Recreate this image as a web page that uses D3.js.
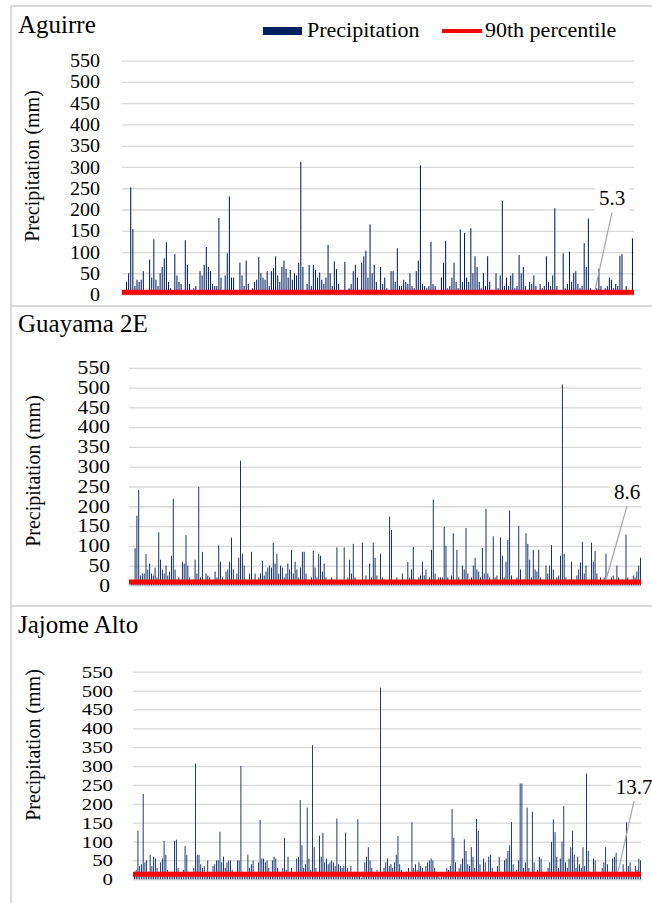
<!DOCTYPE html>
<html>
<head>
<meta charset="utf-8">
<script src="https://cdn.jsdelivr.net/npm/d3@7"></script>
<style>
  body { margin: 0; background: #fff; }
  svg { display: block; }
</style>
</head>
<body>
<script>
// daily precipitation (mm), read left to right off each panel
var aguirreMm = [
    30,50,252,154,20,35,30,35,55,10, 5,82,40,130,35,20,50,65,85,123,
    30,15,10,95,45,30,25,5,128,70, 25,10,15,20,10,55,45,70,112,65,
    55,25,20,20,180,40,10,45,97,231, 40,40,10,5,75,45,20,80,25,10,
    15,30,35,88,50,40,35,55,20,55, 62,90,45,30,65,80,60,40,58,35,
    50,45,75,312,65,10,25,70,20,70, 58,40,52,35,25,40,117,50,20,
    78,60,25,5,10,77,10,15,25,55, 70,40,10,75,90,103,40,165,50,70,
    30,10,65,25,40,15,10,55,55,30, 109,20,20,35,30,25,50,20,15,55,
    80,304,25,20,15,20,124,25,20,10, 5,40,75,126,15,20,40,75,30,15,
    153,30,145,40,30,156,50,90,65,30, 15,50,20,90,30,10,5,50,15,45,
    220,20,40,20,45,50,15,20,93,50, 65,20,10,30,25,45,20,10,25,15,
    20,90,30,20,45,203,20,10,5,97, 15,25,101,30,50,55,25,15,20,121,
    65,179,15,5,10,15,61,20,10,15, 20,40,35,15,25,20,91,95,10,20,
    5,10,132
];
var guayamaMm = [
    5,10,94,176,241,25,30,30,79,40, 55,30,25,45,20,134,65,40,30,50,
    25,35,75,219,40,15,20,10,60,55, 127,50,20,10,15,65,30,249,20,85,
    10,30,25,20,10,5,35,20,101,60, 20,10,35,40,60,121,40,15,30,70,
    315,80,50,15,5,30,85,15,30,10, 20,30,62,25,35,45,50,45,107,55,
    80,30,50,45,20,30,55,40,90,30, 60,40,20,45,85,85,30,15,10,20,
    88,45,20,80,75,35,55,20,10,15, 20,15,10,
    96,10,10,5,96,10,20,65,30,105, 20,10,5,10,108,15,25,10,55,20,
    108,70,25,10,80,20,15,10,5,174, 140,10,5,20,10,10,30,15,10,59,
    20,40,97,15,10,20,25,60,25,40, 15,20,90,217,30,10,20,20,20,148,
    100,20,10,25,132,15,90,20,10,50, 40,145,30,15,20,50,70,40,35,20,
    95,30,194,30,20,10,124,20,25,10, 121,75,20,60,115,189,25,10,15,20,
    150,40,10,15,132,105,65,20,90,40, 35,90,20,15,10,50,30,50,102,40,
    15,20,25,75,508,80,20,10,15,60, 15,10,25,40,58,110,30,50,10,15,
    108,60,87,30,10,20,10,20,80,10, 15,20,25,15,50,20,10,15,10,128,
    20,10,15,25,20,35,50,70
];
var jajomeMm = [
    20,25,129,35,40,226,45,50,20,65, 35,60,55,30,15,45,55,102,65,25,
    15,20,10,102,105,30,15,10,25,88, 65,20,15,10,30,307,65,65,40,30,
    35,10,50,20,15,35,40,50,50,126, 45,60,30,45,50,50,25,15,10,50,
    50,300,20,10,15,65,30,40,50,20, 15,45,157,55,55,45,50,30,20,50,
    60,55,30,20,15,30,110,25,60,15, 30,10,15,55,60,210,90,30,40,190,
    55,25,355,85,30,15,116,60,123,45, 55,
    40,45,50,45,35,161,40,35,30,35, 124,30,20,35,15,20,15,159,10,5,
    20,45,60,85,50,30,20,10,25,15, 508,10,30,45,55,35,40,30,45,65,
    115,40,25,15,10,20,30,15,151,30, 40,25,45,35,30,20,35,45,50,55,
    50,30,20,10,5,15,10,15,30,25, 35,186,110,45,20,30,40,55,106,75,
    40,35,85,60,30,160,128,40,20,55, 45,20,60,65,30,20,15,35,60,20,
    15,50,55,75,90,152,40,20,25,50, 254,254,30,45,190,30,20,179,45,20,
    25,60,55,15,10,20,30,45,99,159, 125,60,30,55,100,194,45,30,55,85,
    129,65,30,60,40,30,85,35,280,75, 20,15,55,50,20,10,15,30,45,85,
    40,20,15,55,60,70,20,10,15,40, 20,151,35,45,20,10,35,25,55,50
];
var stations = ['Aguirre', 'Guayama 2E', 'Jajome Alto'];
var percentile90 = [5.3, 8.6, 13.7];
var yTicks = [0, 50, 100, 150, 200, 250, 300, 350, 400, 450, 500, 550];
var legendLabels = ['Precipitation', '90th percentile'];

;(() => {
    var width = 652, height = 903;

    var barColor = '#002060',
        lineColor = '#ff0000',
        gridColor = '#d9d9d9',
        frameColor = '#d0d0d0',
        serif = '"Liberation Serif", "Times New Roman", serif';

    var series = [aguirreMm, guayamaMm, jajomeMm];

    // where each panel sits on the page (digit = stretched width of one tick digit)
    var layout = [
        { titleY: 33, gx0: 122, gx1: 634, bx0: 126, bx1: 633, yTop: 60.6, yBase: 294.6, tickX: 100, tickFs: 19, digit: 10, axisX: 32, axisY: 166, co: { tx: 39, dx: 17, dy: 94 } },
        { titleY: 332, gx0: 129, gx1: 641, bx0: 131, bx1: 641, yTop: 367.8, yBase: 585.4, tickX: 110, tickFs: 18, digit: 10.8, axisX: 33, axisY: 471, co: { tx: 35, dx: 21, dy: 90 } },
        { titleY: 633, gx0: 133, gx1: 641, bx0: 134, bx1: 641, yTop: 671.7, yBase: 879.3, tickX: 113, tickFs: 17, digit: 10.4, axisX: 33, axisY: 745, co: { tx: 23, dx: 16, dy: 87 } }
    ];

    var svg = d3.select('body')
        .append('svg')
        .attr('width', width)
        .attr('height', height)
        .style('font-family', serif);

    // frame round the three panels
    svg.append('path')
        .attr('d', 'M11,' + height + 'V6H' + width + 'M11,306H' + width + 'M11,606H' + width)
        .attr('fill', 'none')
        .attr('stroke', frameColor)
        .attr('stroke-width', 1.5);

    layout.forEach((L, i) => {
        var data = series[i];
        var g = svg.append('g');

        var y = d3.scaleLinear().domain([0, 550]).range([L.yBase, L.yTop]);
        var x = d3.scaleBand()
            .domain(d3.range(data.length))
            .range([L.bx0, L.bx1])
            .paddingInner(0.5); // thin bars, antialiasing gives the light/dark mix

        // gridlines + tick labels
        var axis = g.append('g')
            .attr('transform', 'translate(' + L.gx0 + ',0)')
            .call(d3.axisLeft(y)
                .tickValues(yTicks)
                .tickSize(-(L.gx1 - L.gx0))
                .tickPadding(L.gx0 - L.tickX));
        axis.select('.domain').remove();
        axis.selectAll('.tick line')
            .attr('stroke', gridColor)
            .attr('stroke-width', 1.3);
        axis.selectAll('.tick text')
            .attr('fill', '#000')
            .attr('font-size', L.tickFs)
            .attr('font-family', serif)
            .attr('textLength', d => String(d).length * L.digit)
            .attr('lengthAdjust', 'spacingAndGlyphs');

        g.append('text')
            .attr('transform', 'translate(' + L.axisX + ',' + L.axisY + ') rotate(-90)')
            .attr('text-anchor', 'middle')
            .attr('dominant-baseline', 'central')
            .attr('font-size', 20)
            .text('Precipitation (mm)');

        g.append('text')
            .attr('x', 18)
            .attr('y', L.titleY)
            .attr('font-size', 25)
            .text(stations[i]);

        // bars
        g.selectAll('rect.bar')
            .data(data)
            .enter()
            .append('rect')
            .classed('bar', true)
            .attr('x', (d, j) => x(j))
            .attr('width', x.bandwidth())
            .attr('y', d => y(d))
            .attr('height', d => y(0) - y(d))
            .attr('fill', barColor);

        // 90th percentile line
        var p = percentile90[i];
        g.append('line')
            .attr('x1', L.gx0)
            .attr('x2', L.gx1)
            .attr('y1', y(p))
            .attr('y2', y(p))
            .attr('stroke', lineColor)
            .attr('stroke-width', 5);

        // callout with the value
        var tx = L.gx1 - L.co.tx,
            ty = y(p) - 2,
            lx = tx + L.co.dx,
            ly = y(p) - L.co.dy;
        var callout = g.append('g');
        callout.append('line')
            .attr('x1', lx)
            .attr('y1', ly + 14)
            .attr('x2', tx)
            .attr('y2', ty)
            .attr('stroke', '#a6a6a6')
            .attr('stroke-width', 1.2);
        var box = callout.append('rect').attr('fill', '#fff');
        var label = callout.append('text')
            .attr('x', lx)
            .attr('y', ly)
            .attr('text-anchor', 'middle')
            .attr('dominant-baseline', 'central')
            .attr('font-size', 21)
            .text(p.toFixed(1));
        var bb = label.node().getBBox();
        box.attr('x', bb.x - 4)
            .attr('y', bb.y - 2)
            .attr('width', bb.width + 8)
            .attr('height', bb.height + 4);
    });

    // legend (top panel only)
    var legend = svg.append('g');
    legend.append('rect')
        .attr('x', 263).attr('y', 27)
        .attr('width', 39).attr('height', 8)
        .attr('fill', barColor);
    legend.append('text')
        .attr('x', 307).attr('y', 37)
        .attr('font-size', 22)
        .text(legendLabels[0]);
    legend.append('line')
        .attr('x1', 442).attr('x2', 482)
        .attr('y1', 31).attr('y2', 31)
        .attr('stroke', lineColor)
        .attr('stroke-width', 4);
    legend.append('text')
        .attr('x', 485).attr('y', 37)
        .attr('font-size', 22)
        .text(legendLabels[1]);
})();
</script>
</body>
</html>
